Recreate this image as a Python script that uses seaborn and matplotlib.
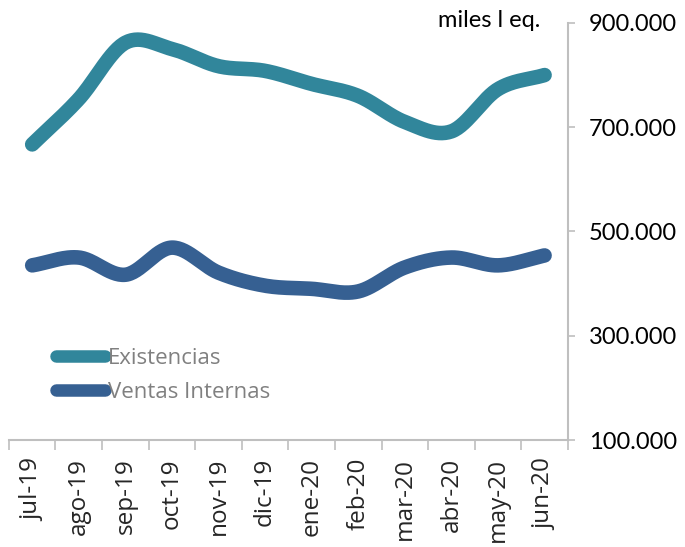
import numpy as np
import pandas as pd
import matplotlib
matplotlib.use("Agg")
import matplotlib.pyplot as plt
import seaborn as sns
from matplotlib.ticker import FuncFormatter, FixedLocator
from matplotlib.lines import Line2D

months = ["jul-19", "ago-19", "sep-19", "oct-19", "nov-19", "dic-19",
          "ene-20", "feb-20", "mar-20", "abr-20", "may-20", "jun-20"]
existencias = [667000, 754000, 862000, 850000, 817000, 808000,
               783000, 760000, 710000, 692000, 773000, 800000]
ventas = [435000, 450000, 417000, 469000, 421000, 396000,
          390000, 385000, 431000, 450000, 435000, 454000]
yticks = [100000, 300000, 500000, 700000, 900000]

def smooth(vals, n=30):
    p = np.asarray(vals, float)
    x = np.arange(len(p), dtype=float)
    pp = np.concatenate([[2 * p[0] - p[1]], p, [2 * p[-1] - p[-2]]])
    xx = np.concatenate([[x[0] - 1], x, [x[-1] + 1]])
    xs, ys = [], []
    for i in range(1, len(pp) - 2):
        t = np.linspace(0, 1, n, endpoint=(i == len(pp) - 3))
        for arr, out in ((xx, xs), (pp, ys)):
            p0, p1, p2, p3 = arr[i - 1], arr[i], arr[i + 1], arr[i + 2]
            c1 = p1 + (p2 - p0) / 6
            c2 = p2 - (p3 - p1) / 6
            out.extend((1 - t) ** 3 * p1 + 3 * (1 - t) ** 2 * t * c1 + 3 * (1 - t) * t ** 2 * c2 + t ** 3 * p2)
    return np.array(xs), np.array(ys)

frames = []
for name, vals in (("Existencias", existencias), ("Ventas Internas", ventas)):
    xs, ys = smooth(vals)
    frames.append(pd.DataFrame({"x": xs, "y": ys, "serie": name}))
df = pd.concat(frames, ignore_index=True)

sns.set_style("white")
plt.rcParams["font.family"] = ["Lato", "DejaVu Sans"]

fig = plt.figure(figsize=(6.85, 5.47), dpi=100)
ax = fig.add_axes([0.013, 0.1956, 0.816, 0.7625])

palette = {"Existencias": "#31869B", "Ventas Internas": "#366092"}
sns.lineplot(data=df, x="x", y="y", hue="serie", palette=palette, sort=False,
             estimator=None, linewidth=10.5, ax=ax, legend=False)
for ln in ax.get_lines():
    ln.set_solid_capstyle("round")
    ln.set_solid_joinstyle("round")

ax.set_xlim(-0.5, len(months) - 0.5)
ax.set_ylim(yticks[0], yticks[-1])
ax.set_xlabel("")
ax.set_ylabel("")

ax.yaxis.tick_right()
ax.set_yticks(yticks)
ax.yaxis.set_major_formatter(FuncFormatter(lambda v, p: f"{int(v):,}".replace(",", ".")))
ax.tick_params(axis="y", which="major", direction="out", length=5, width=1.2,
               color="#BFBFBF", labelsize=17, labelcolor="black", pad=10, right=True, left=False)

ax.xaxis.set_major_locator(FixedLocator(np.arange(-0.5, len(months), 1.0)))
ax.xaxis.set_major_formatter(FuncFormatter(lambda v, p: ""))
ax.xaxis.set_minor_locator(FixedLocator(np.arange(len(months))))
ax.set_xticklabels(months, minor=True)
ax.tick_params(axis="x", which="minor", length=0, labelsize=17.5, labelrotation=90, pad=13)
ax.tick_params(axis="x", which="major", direction="out", length=7, width=1.2,
               color="#BFBFBF", bottom=True)
for t in ax.get_xticklabels(minor=True):
    t.set_fontfamily(["Open Sans", "DejaVu Sans"])

for s in ("top", "left"):
    ax.spines[s].set_visible(False)
for s in ("right", "bottom"):
    ax.spines[s].set_visible(True)
    ax.spines[s].set_color("#BFBFBF")
    ax.spines[s].set_linewidth(1.5)

fig.text(0.789, 0.962, "miles l eq.", ha="right", va="center", fontsize=17, color="black")

handles = [Line2D([0], [0], color=palette[k], linewidth=9, solid_capstyle="round")
           for k in ("Existencias", "Ventas Internas")]
leg = fig.legend(handles, ["Existencias", "Ventas Internas"], loc="upper left",
                 bbox_to_anchor=(0.066, 0.385), frameon=False,
                 prop={"family": ["Open Sans", "DejaVu Sans"], "size": 16},
                 handlelength=2.2, handletextpad=0.12, labelspacing=0.6, borderpad=0)
for t in leg.get_texts():
    t.set_color("#808080")

fig.savefig("out.png", dpi=100)
